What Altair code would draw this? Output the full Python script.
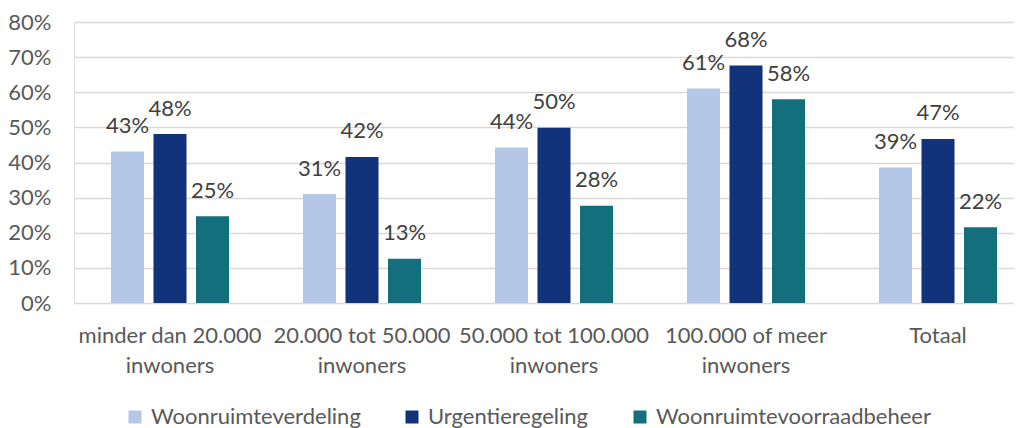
import altair as alt
import pandas as pd

categories = [
    "minder dan 20.000 inwoners",
    "20.000 tot 50.000 inwoners",
    "50.000 tot 100.000 inwoners",
    "100.000 of meer inwoners",
    "Totaal",
]
series = ["Woonruimteverdeling", "Urgentieregeling", "Woonruimtevoorraadbeheer"]
woonruimteverdeling = [0.431, 0.310, 0.443, 0.611, 0.386]
urgentieregeling = [0.481, 0.416, 0.499, 0.676, 0.467]
woonruimtevoorraadbeheer = [0.247, 0.126, 0.277, 0.580, 0.216]
colors = ["#B4C7E7", "#12337C", "#136E7E"]
y_ticks = [0, 0.1, 0.2, 0.3, 0.4, 0.5, 0.6, 0.7, 0.8]

rows = []
for name, vals in zip(series, [woonruimteverdeling, urgentieregeling, woonruimtevoorraadbeheer]):
    for cat, v in zip(categories, vals):
        rows.append({"categorie": cat, "reeks": name, "waarde": v})
df = pd.DataFrame(rows)

FONT = "Lato"
FS = 22

x = alt.X(
    "categorie:N",
    sort=categories,
    title=None,
    scale=alt.Scale(range=[0, 960], paddingInner=0, paddingOuter=0),
    axis=alt.Axis(
        labelAngle=0,
        labelExpr="datum.label == 'Totaal' ? 'Totaal' : [replace(datum.label, ' inwoners', ''), 'inwoners']",
        labelBaseline="alphabetic",
        labelPadding=39,
        labelLineHeight=30,
        labelLimit=400,
        ticks=False,
        tickSize=0,
        domain=False,
        grid=False,
        labelFont=FONT,
        labelFontSize=FS,
        labelColor="#595959",
    ),
)
xo = alt.XOffset("reeks:N", sort=series, scale=alt.Scale(paddingInner=0.2235, paddingOuter=0.87))
y = alt.Y(
    "waarde:Q",
    title=None,
    scale=alt.Scale(domain=[0, 0.8]),
    axis=alt.Axis(
        values=y_ticks,
        format=".0%",
        ticks=False,
        tickSize=0,
        domain=False,
        labelPadding=23,
        gridColor="#D9D9D9",
        gridWidth=1.5,
        labelFont=FONT,
        labelFontSize=FS,
        labelColor="#595959",
    ),
)
color = alt.Color(
    "reeks:N",
    sort=series,
    scale=alt.Scale(domain=series, range=colors),
    legend=alt.Legend(
        title=None,
        orient="none",
        direction="horizontal",
        legendX=50,
        legendY=384,
        symbolType="square",
        symbolSize=169,
        symbolStrokeWidth=0,
        labelOffset=5,
        columnPadding=40,
        padding=0,
        labelFont=FONT,
        labelFontSize=FS,
        labelColor="#595959",
        labelLimit=500,
    ),
)

base = alt.Chart(df)
bars = base.mark_bar().encode(x=x, xOffset=xo, y=y, color=color)
labels = base.mark_text(
    baseline="alphabetic", dy=-18.5, font=FONT, fontSize=FS, color="#404040"
).encode(x=x, xOffset=xo, y=y, text=alt.Text("waarde:Q", format=".0%"))

chart = (
    alt.layer(bars, labels)
    .properties(
        width=940,
        height=281,
        autosize=alt.AutoSizeParams(type="none"),
        padding={"left": 66, "top": 14, "right": 0, "bottom": 127},
    )
    .configure_view(stroke=None)
    .configure(background="white")
)

chart.save("out.html", embed_options={"renderer": "svg", "actions": False})
